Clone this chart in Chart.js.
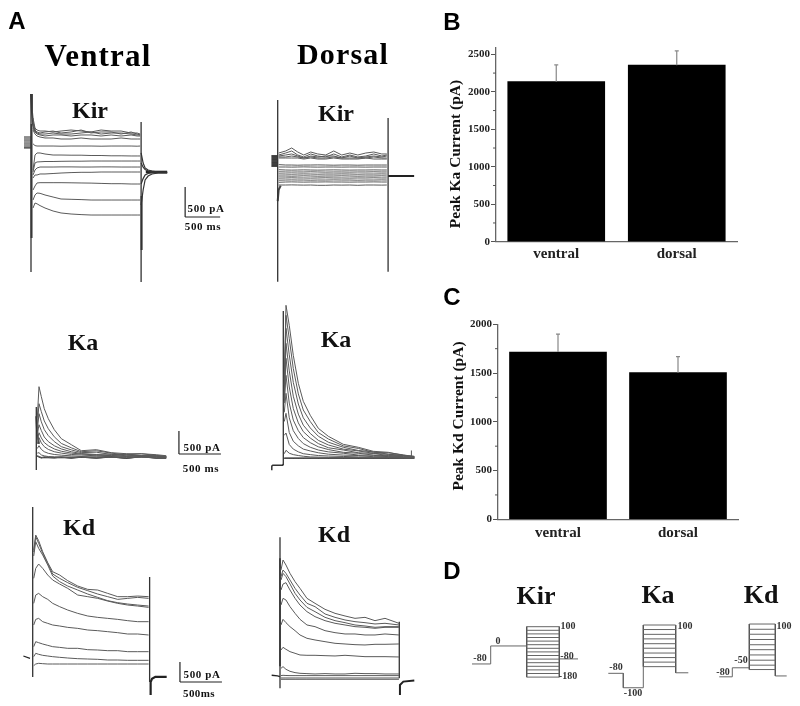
<!DOCTYPE html>
<html><head><meta charset="utf-8">
<script src="https://cdn.jsdelivr.net/npm/chart.js@4"></script>
<style>
html,body{margin:0;padding:0;background:#fff;overflow:hidden}
#fig{position:relative;width:800px;height:706px;filter:blur(0.45px)}
canvas{position:absolute}
.t{position:absolute;white-space:nowrap;color:#111;font-family:"Liberation Serif",serif;font-weight:bold;line-height:1}
</style></head><body><div id="fig"></div>
<script>
// ---- Bar data (panels B and C) ----
const barCategories=['ventral','dorsal'];
const peakKa=[2135,2356];
const peakKaErrTop=[2360,2546];
const peakKd=[1716,1504];
const peakKdErrTop=[1900,1668];
const kaMajorTicks=[0,500,1000,1500,2000,2500];
const kdMajorTicks=[0,500,1000,1500,2000];
const kaMinorTicks=[250,750,1250,1750,2250];
const kdMinorTicks=[250,750,1250,1750];

// ---- Ventral Kir, ms and pA ----
const vKirT=[29,57,86,129,200,315,429,572,715,858,1001,1144,1287,1430,1516,1559];
const vKirS=[
[900,733,700,683,683,667,683,700,683,667,700,683,683,650,650,633],
[833,700,667,650,667,683,650,667,700,650,667,667,633,667,633,617],
[783,683,650,633,633,650,633,633,650,667,633,650,650,633,617,617],
[733,667,633,617,600,617,617,600,617,617,600,617,600,617,600,600],
[700,633,600,583,567,567,550,550,567,550,550,550,567,550,550,550],
[470,440,433,433,433,433,430,433,433,433,430,433,433,433,430,433],
[33,283,317,317,300,283,283,280,280,275,275,270,270,267,267,267],
[0,150,167,170,175,175,178,180,180,183,183,183,183,183,183,183],
[-50,33,67,83,83,83,85,85,83,83,85,85,83,83,83,83],
[-100,-50,-50,-33,-33,-25,-17,-10,-5,-5,0,0,0,0,0,0],
[-300,-233,-183,-178,-178,-178,-178,-180,-183,-185,-190,-195,-195,-200,-200,-200],
[-467,-383,-350,-355,-383,-417,-450,-455,-460,-467,-467,-467,-467,-467,-467,-467],
[-600,-517,-530,-560,-600,-650,-683,-700,-710,-717,-717,-717,-717,-717,-717,-717]];
const vKirSpikes=[[0,1300,-1667],[1573,833,-1833]];
const vKirTailT=[1573,1602,1630,1673,1730,1816,1945];
const vKirTails=[[317,150,67,33,17,0,0],[150,80,40,17,5,0,-5],[-200,-110,-50,-25,-10,-10,-10],[-550,-300,-133,-67,-33,-17,-17]];
const vKirDecayT=[0,14,29,57];
const vKirDecay=[1300,1000,800,680];
const vKirThickSpan=[800,-1100];
const vKirPreT=[-100,0];
const vKirPre=[583,550,517,483,450,417,400];

// ---- Dorsal Kir ----
const dKirT=[14,114,200,286,372,472,572,686,801,915,1030,1144,1258,1373,1487,1559];
const dKirS=[
[383,417,467,400,350,400,367,350,417,350,383,350,383,400,367,367],
[350,383,417,350,317,367,333,317,367,317,350,317,333,367,333,350],
[333,350,367,333,300,333,317,333,333,300,333,300,317,333,317,333],
[317,317,333,317,300,317,300,300,317,300,300,300,300,317,300,300],
[300,300,300,300,283,300,283,283,300,283,283,283,300,283,283,283],
[190,183,183,180,183,183,185,183,180,183,183,180,183,183,183,183],
[150,150,148,150,152,150,148,150,150,148,150,150,148,150,150,150],
[105,100,98,100,102,100,98,100,102,100,98,100,100,102,100,100],
[70,67,65,67,67,70,67,65,67,67,65,67,67,70,67,67],
[35,33,30,33,35,33,30,33,33,35,33,30,33,33,35,33],
[0,0,-3,0,3,0,-3,0,0,3,0,-3,0,0,3,0],
[-35,-33,-30,-33,-33,-35,-33,-30,-33,-33,-35,-33,-33,-30,-33,-33],
[-70,-67,-65,-67,-67,-70,-67,-67,-65,-67,-67,-70,-67,-67,-65,-67],
[-105,-100,-98,-100,-102,-100,-100,-98,-100,-100,-102,-100,-100,-98,-100,-100],
[-150,-150,-148,-150,-152,-150,-155,-155,-150,-152,-150,-155,-150,-150,-152,-150]];
const dKirSpikes=[[0,1267,-1762],[1577,967,-1595]];
const dKirTailT=[1577,1949];
const dKirTail=[0,0];
const dKirDipT=[0,14,43];
const dKirDip=[-420,-230,-160];
const dKirPreT=[-90,0];
const dKirPre=[333,300,267,233,200,167];

// ---- Ventral Ka ----
const vKaT=[12,32,60,95,143,214,298,417,536,714,893,1071,1250,1428,1547];
const vKaS=[
[870,1544,1326,1065,848,609,413,283,152,174,109,87,87,65,43],
[700,1174,1000,800,630,455,310,215,130,150,100,60,85,50,30],
[600,957,780,610,480,350,240,170,110,120,70,75,45,50,25],
[500,717,590,450,350,260,190,130,90,70,80,40,50,30,20],
[400,543,430,330,260,190,140,100,80,60,50,60,30,30,20],
[300,435,320,240,180,130,100,70,60,40,50,30,35,15,15],
[200,261,180,130,95,70,55,40,30,35,20,25,15,20,10],
[100,109,60,40,25,20,15,15,10,10,15,5,10,0,5],
[40,20,0,10,5,0,10,-5,15,-10,20,-15,25,-10,-5]];
const vKaSpikes=[[0,1100,-267]];

// ---- Dorsal Ka ----
const dKaT=[12,32,71,119,179,238,321,417,536,714,893,1071,1250,1428,1559];
const dKaS=[
[1700,3326,2891,2239,1630,1239,935,652,478,304,239,152,130,65,43],
[1600,3109,2600,1950,1400,1050,800,560,420,270,215,130,120,75,35],
[1500,2826,2250,1650,1180,880,660,480,350,240,170,140,90,60,40],
[1400,2500,1900,1350,960,720,540,390,290,200,160,110,85,60,30],
[1300,2174,1550,1080,770,580,440,320,230,180,120,105,60,55,25],
[1200,1804,1200,830,600,450,340,250,190,130,110,70,55,35,25],
[1000,1413,880,600,430,320,240,180,140,110,70,65,35,35,20],
[800,978,560,370,270,200,160,120,90,70,60,35,35,20,15],
[500,550,300,200,140,100,80,60,50,40,30,25,20,15,10],
[100,174,110,80,60,45,30,25,20,15,15,10,10,5,5],
[0,0,0,0,0,0,0,0,0,0,0,0,0,0,0]];
const dKaSpikes=[[0,3200,-150]];
const dKaPreT=[-137,-137,-125,-10,0];
const dKaPre=[-260,-170,-150,-150,-130];
const dKaEndT=[1525,1525];
const dKaEnd=[0,170];

// ---- Ventral Kd ----
const vKdT=[12,36,71,119,179,238,321,417,536,655,774,893,1012,1131,1250,1380];
const vKdS=[
[2849,3224,3082,2807,2532,2307,2224,2083,1949,1866,1849,1766,1683,1683,1699,1683],
[2800,3182,3016,2766,2516,2249,2141,2033,1916,1833,1749,1683,1616,1641,1666,1641],
[2700,3057,2891,2724,2474,2199,2058,1949,1849,1749,1666,1583,1533,1499,1474,1449],
[2141,2391,2499,2391,2224,2099,1999,1891,1724,1683,1641,1574,1516,1474,1449,1416],
[1516,1724,1766,1683,1616,1516,1433,1349,1266,1200,1166,1141,1116,1083,1058,1058],
[975,1116,1141,1058,1016,975,950,916,891,850,833,808,783,750,750,725],
[433,558,533,500,466,433,416,392,392,358,350,333,333,308,308,308],
[183,267,242,217,200,183,167,150,133,125,117,100,100,92,92,92],
[-42,0,17,8,0,0,0,0,0,0,0,0,0,0,0,0]];
const vKdSpikes=[[0,3925,-325],[1392,2175,-450]];
const vKdPreT=[-111,-32];
const vKdPre=[200,142];
const vKdTailT=[1404,1404,1420,1460,1595];
const vKdTail=[-775,-450,-370,-320,-320];

// ---- Dorsal Kd ----
const dKdT=[12,36,71,119,179,238,321,417,536,655,774,893,1012,1131,1250,1416];
const dKdS=[
[2707,2957,2832,2624,2416,2249,1999,1874,1724,1624,1558,1499,1524,1441,1499,1375],
[2541,2707,2624,2457,2249,2082,1874,1791,1608,1524,1458,1416,1391,1358,1375,1333],
[2457,2624,2541,2357,2124,1958,1774,1666,1524,1441,1391,1333,1308,1275,1291,1291],
[2207,2357,2391,2207,1999,1832,1666,1541,1441,1375,1333,1291,1275,1250,1275,1275],
[1832,1999,1957,1791,1624,1474,1333,1291,1191,1141,1108,1108,1083,1083,1108,1083],
[1333,1474,1391,1291,1191,1083,1000,958,916,875,858,841,833,850,850,858],
[708,775,725,666,625,583,575,575,566,558,575,558,541,541,541,533],
[250,292,225,175,142,125,117,108,117,108,108,125,117,117,108,108],
[67,75,70,67,67,67,67,67,67,67,67,67,67,67,67,67],
[8,8,8,8,8,8,8,8,8,8,8,8,8,8,8,8],
[-25,-25,-25,-25,-25,-25,-25,-25,-25,-25,-25,-25,-25,-25,-25,-25]];
const dKdSpikes=[[0,3524,-250],[1420,1416,0]];
const dKdPreT=[-99,-30,0];
const dKdPre=[75,60,40];
const dKdTailT=[1428,1428,1468,1599];
const dKdTail=[-417,-167,-83,-58];

// ---- Scale bars, data values ----
const vKirBar={t:2202,i:-750};
const vKaBar={t:1698,i:80};
const vKdBar={t:1753,i:-450};
const barSpanMs=500, barSpanPa=500;

// ---- Voltage protocols (panel D), ms and mV ----
const kirLevels=[100,80,60,40,20,0,-20,-40,-60,-80,-100,-120,-140,-160,-180];
const kirPathT=[0,187,187,547];
const kirPathV=[-107,-107,-7,-7];
const kirStep=[547,873];
const kirTailT=[873,1060];
const kirTailV=[-79,-79];
const kaLevels=[100,83,65,48,30,13,-5,-22,-39,-56];
const kaPathT=[0,150,150,350,350];
const kaPathV=[-81,-81,-135,-135,-56];
const kaStep=[350,674];
const kaTailT=[674,800];
const kaTailV=[-79,-79];
const kdLevels=[100,82,65,47,29,12,-6,-24,-41,-56];
const kdPathT=[0,130,130,300];
const kdPathV=[-81,-81,-50,-50];
const kdStep=[300,560];
const kdTailT=[560,674];
const kdTailV=[-78,-78];

// ---- Helpers ----
const fig=document.getElementById('fig');
const traceGrey='#5a5a5a';
function mkCanvas(l,t,w,h){const c=document.createElement('canvas');c.width=w;c.height=h;c.style.left=l+'px';c.style.top=t+'px';c.style.width=w+'px';c.style.height=h+'px';fig.appendChild(c);return c;}
const pts=(t,y)=>t.map((x,i)=>({x,y:y[i]}));
const ln=(t,y,w,c)=>({data:pts(t,y),showLine:true,pointRadius:0,borderWidth:w||1,borderColor:c||traceGrey,tension:0,fill:false});
function traceChart(box,map,datasets){
  const c=mkCanvas(box[0],box[1],box[2],box[3]);
  new Chart(c,{type:'scatter',data:{datasets},options:{responsive:false,animation:false,events:[],
    layout:{padding:0},plugins:{legend:{display:false},tooltip:{enabled:false}},
    scales:{
      x:{type:'linear',display:false,min:(box[0]-map.x0)*map.ms,max:(box[0]+box[2]-map.x0)*map.ms},
      y:{type:'linear',display:false,max:(map.y0-box[1])*map.pa,min:(map.y0-box[1]-box[3])*map.pa}}}});
}
function sweepSets(t,S,w,c){return S.map(s=>ln(t,s,w,c));}
function spikeSets(sp){return sp.map(s=>ln([s[0],s[0]],[s[1],s[2]],1.3,'#333'));}
function scaleBar(b){return [ln([b.t,b.t],[b.i,b.i+barSpanPa],1.2,'#222'),ln([b.t,b.t+barSpanMs],[b.i,b.i],1.2,'#222')];}

// ---- Ventral Kir ----
traceChart([15,85,215,205],{x0:31,y0:172,ms:500/35,pa:500/30},[
 ...sweepSets(vKirT,vKirS),...spikeSets(vKirSpikes),
 ...vKirTails.map(y=>ln(vKirTailT,y,1.2,'#333')),
 ln([1640,1945],[0,0],2.6,'#222'),
 ln(vKirDecayT,vKirDecay,2,'#444'),ln([8,8],vKirThickSpan,2,'#444'),
 ln([1580,1580],[-400,-1300],2,'#333'),
 ...vKirPre.map(v=>ln(vKirPreT,[v,v],1,'#222')),
 ...scaleBar(vKirBar)]);
// ---- Dorsal Kir ----
traceChart([262,90,165,200],{x0:277.7,y0:176,ms:500/35,pa:500/30},[
 ...sweepSets(dKirT,dKirS),...spikeSets(dKirSpikes),
 ln(dKirTailT,dKirTail,2,'#222'),ln(dKirDipT,dKirDip,2,'#444'),
 ...dKirPre.map(v=>ln(dKirPreT,[v,v],1.6,'#111'))]);
// ---- Ventral Ka ----
traceChart([15,375,215,105],{x0:36.3,y0:457.7,ms:500/42,pa:500/23},[
 ...sweepSets(vKaT,vKaS),...spikeSets(vKaSpikes),
 ln(vKaT,vKaS[8],1.4,'#222'),ln([0,12,32],[900,500,300],2,'#444'),
 ...scaleBar(vKaBar)]);
// ---- Dorsal Ka ----
traceChart([262,295,165,185],{x0:283.3,y0:458.3,ms:500/42,pa:500/23},[
 ...sweepSets(dKaT,dKaS),...spikeSets(dKaSpikes),
 ln(dKaT,dKaS[10],1.4,'#222'),ln(dKaPreT,dKaPre,1.5,'#333'),
 ln(dKaEndT,dKaEnd,1,'#555')]);
// ---- Ventral Kd ----
traceChart([15,500,215,205],{x0:32.7,y0:664,ms:500/42,pa:25},[
 ...sweepSets(vKdT,vKdS),...spikeSets(vKdSpikes),
 ln(vKdPreT,vKdPre,1.2,'#222'),ln(vKdTailT,vKdTail,2.2,'#222'),
 ...scaleBar(vKdBar)]);
// ---- Dorsal Kd ----
traceChart([262,530,165,175],{x0:280,y0:678.3,ms:500/42,pa:25},[
 ...sweepSets(dKdT,dKdS),...spikeSets(dKdSpikes),
 ln(dKdPreT,dKdPre,1.4,'#222'),ln(dKdTailT,dKdTail,2,'#222'),
 ln([0,0],[3000,300],1.6,'#333')]);

// ---- Voltage protocols ----
function protoChart(box,x0,zeroY,pxPerMv,levels,step,pathT,pathV,tailT,tailV){
  const sets=[ln(pathT,pathV,1,'#666'),ln(tailT,tailV,1,'#666'),
    ...levels.map(v=>ln(step,[v,v],1,'#666')),
    ln([step[0],step[0]],[levels[0],levels[levels.length-1]],1,'#555'),
    ln([step[1],step[1]],[levels[0],Math.min(levels[levels.length-1],tailV[0])],1,'#555')];
  traceChart(box,{x0,y0:zeroY,ms:10,pa:1/pxPerMv},sets);
}
protoChart([465,618,120,70],472,644.7,0.18,kirLevels,kirStep,kirPathT,kirPathV,kirTailT,kirTailV);
protoChart([600,618,95,78],608.3,651.7,0.267,kaLevels,kaStep,kaPathT,kaPathV,kaTailT,kaTailV);
protoChart([712,618,82,66],719.3,653.2,0.2917,kdLevels,kdStep,kdPathT,kdPathV,kdTailT,kdTailV);

// ---- Bar charts ----
const serifBold=s=>({family:'"Liberation Serif",serif',weight:'bold',size:s});
function barChart(box,pad,leftW,bottomH,vals,errs,yMax,major,minor,catPadding){
  const c=mkCanvas(box[0],box[1],box[2],box[3]);
  const extra={id:'ext',afterDatasetsDraw(ch){
    const g=ch.ctx,X=ch.scales.x,Y=ch.scales.y;g.save();
    g.strokeStyle='#888';g.lineWidth=1.2;
    errs.forEach((e,i)=>{const x=X.getPixelForValue(i);
      g.beginPath();g.moveTo(x,Y.getPixelForValue(vals[i]));g.lineTo(x,Y.getPixelForValue(e));
      g.moveTo(x-2,Y.getPixelForValue(e));g.lineTo(x+2,Y.getPixelForValue(e));g.stroke();});
    g.strokeStyle='#555';g.lineWidth=1;
    minor.forEach(v=>{const y=Y.getPixelForValue(v);g.beginPath();g.moveTo(Y.right-3,y);g.lineTo(Y.right,y);g.stroke();});
    g.restore();}};
  new Chart(c,{type:'bar',data:{labels:barCategories,datasets:[{data:vals,backgroundColor:'#000',barThickness:97}]},
    plugins:[extra],
    options:{responsive:false,animation:false,events:[],layout:{padding:pad},
      plugins:{legend:{display:false},tooltip:{enabled:false}},
      scales:{
        x:{grid:{display:false,drawTicks:false},border:{display:true,color:'#666',width:1.3},
           ticks:{color:'#222',font:serifBold(15),padding:catPadding,maxRotation:0},
           afterFit(s){s.height=bottomH;}},
        y:{min:0,max:yMax,grid:{drawOnChartArea:false,drawTicks:true,tickLength:5,color:'#555',tickColor:'#555'},
           border:{display:true,color:'#666',width:1.3},
           afterBuildTicks(s){s.ticks=major.map(v=>({value:v}));},
           ticks:{color:'#222',font:serifBold(11),padding:1,autoSkip:false,callback:v=>String(v)},
           afterFit(s){s.width=leftW;}}}}});
}
barChart([440,40,300,230],{top:6.7,right:3,bottom:0,left:0},56,28.3,peakKa,peakKaErrTop,2590,kaMajorTicks,kaMinorTicks,3);
barChart([440,310,300,240],{top:14.3,right:2,bottom:0,left:0},58,30.7,peakKd,peakKdErrTop,2000,kdMajorTicks,kdMinorTicks,5);

// ---- Text ----
function txt(s,cx,cy,size,opt){opt=opt||{};const d=document.createElement('div');d.className='t';d.textContent=s;
  d.style.fontSize=size+'px';d.style.left=cx+'px';d.style.top=cy+'px';
  d.style.transform='translate(-50%,-50%)'+(opt.rot?' rotate('+opt.rot+'deg)':'');
  if(opt.sp)d.style.letterSpacing=opt.sp+'px';
  if(opt.sans){d.style.fontFamily='"Liberation Sans",sans-serif';}
  if(opt.color)d.style.color=opt.color;
  fig.appendChild(d);}
const panelLetters=[['A',17,21],['B',452,22],['C',452,297],['D',452,571]];
panelLetters.forEach(p=>txt(p[0],p[1],p[2],24,{sans:1,color:'#000'}));
txt('Ventral',98,55,31,{sp:1.2,color:'#000'});
txt('Dorsal',343,54,30,{sp:1.2,color:'#000'});
const ionLabels=[['Kir',90,110],['Kir',336,113],['Ka',83,342],['Ka',336,339],['Kd',79,527],['Kd',334,534]];
ionLabels.forEach(p=>txt(p[0],p[1],p[2],24));
const protoTitles=[['Kir',536,596],['Ka',658,595],['Kd',761,595]];
protoTitles.forEach(p=>txt(p[0],p[1],p[2],26));
const scaleLabels=[['500 pA',206,208,.6],['500 ms',203,226,.6],['500 pA',202,447,.6],['500 ms',201,468,.6],['500 pA',202,674,.6],['500ms',199,693,.4]];
scaleLabels.forEach(p=>txt(p[0],p[1],p[2],11,{sp:p[3]}));
txt('Peak Ka Current (pA)',455,153.5,15.5,{rot:-90});
txt('Peak Kd Current (pA)',458,416,15.5,{rot:-90});
const voltLabels=[['-80',480,658],['0',498,641],['100',568,626],['-80',567,656],['-180',568,676],['-80',616,667],['-100',633,693],['100',685,626],['-80',723,672],['-50',741,660],['100',784,626]];
voltLabels.forEach(p=>txt(p[0],p[1],p[2],10,{color:'#333'}));
</script></body></html>
